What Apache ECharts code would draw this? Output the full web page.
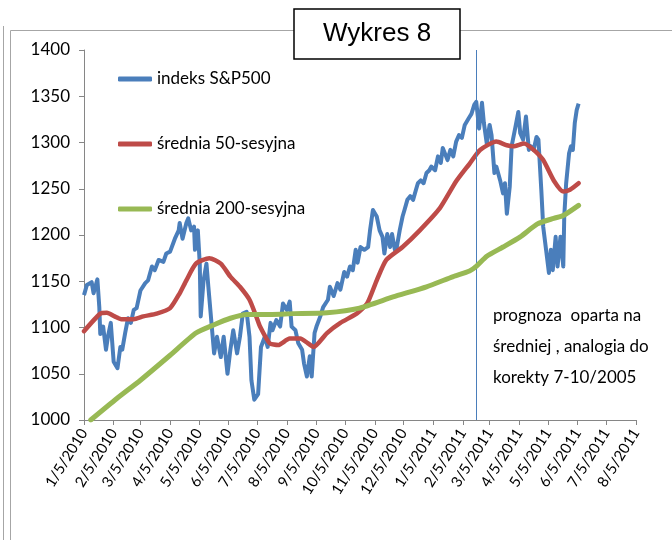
<!DOCTYPE html>
<html>
<head>
<meta charset="utf-8">
<title>Wykres 8</title>
<script src="https://cdn.jsdelivr.net/npm/echarts@6/dist/echarts.min.js"></script>
<style>
  html, body { margin: 0; padding: 0; background: #fff; }
  #main { width: 672px; height: 540px; }
</style>
</head>
<body>
<div id="main"></div>
<script>
const FONT = 'Lato, "Liberation Sans", sans-serif';

// oś X - etykiety co miesiąc
const tickLabels = ['1/5/2010', '2/5/2010', '3/5/2010', '4/5/2010', '5/5/2010', '6/5/2010', '7/5/2010',
  '8/5/2010', '9/5/2010', '10/5/2010', '11/5/2010', '12/5/2010', '1/5/2011', '2/5/2011', '3/5/2011',
  '4/5/2011', '5/5/2011', '6/5/2011', '7/5/2011', '8/5/2011'];

// indeks S&P500
const spxDates = [
  '2010-01-05', '2010-01-08', '2010-01-13', '2010-01-15', '2010-01-19', '2010-01-21', '2010-01-22', '2010-01-25',
  '2010-01-28', '2010-01-30', '2010-02-02', '2010-02-05', '2010-02-09', '2010-02-12', '2010-02-14', '2010-02-17',
  '2010-02-20', '2010-02-23', '2010-02-26', '2010-03-01', '2010-03-05', '2010-03-10', '2010-03-13', '2010-03-17',
  '2010-03-20', '2010-03-24', '2010-03-29', '2010-04-01', '2010-04-05', '2010-04-10', '2010-04-14', '2010-04-15',
  '2010-04-18', '2010-04-22', '2010-04-24', '2010-04-27', '2010-04-30', '2010-05-01', '2010-05-04', '2010-05-06',
  '2010-05-07', '2010-05-10', '2010-05-13', '2010-05-15', '2010-05-18', '2010-05-21', '2010-05-24', '2010-05-28',
  '2010-05-31', '2010-06-04', '2010-06-07', '2010-06-10', '2010-06-14', '2010-06-17', '2010-06-20', '2010-06-24',
  '2010-06-27', '2010-06-29', '2010-07-02', '2010-07-06', '2010-07-09', '2010-07-13', '2010-07-16', '2010-07-19',
  '2010-07-21', '2010-07-25', '2010-07-29', '2010-08-01', '2010-08-05', '2010-08-08', '2010-08-10', '2010-08-14',
  '2010-08-17', '2010-08-21', '2010-08-23', '2010-08-26', '2010-08-29', '2010-08-31', '2010-09-03', '2010-09-05',
  '2010-09-09', '2010-09-12', '2010-09-17', '2010-09-19', '2010-09-23', '2010-09-27', '2010-09-30', '2010-10-04',
  '2010-10-07', '2010-10-10', '2010-10-13', '2010-10-16', '2010-10-18', '2010-10-21', '2010-10-25', '2010-10-29',
  '2010-10-31', '2010-11-03', '2010-11-07', '2010-11-10', '2010-11-13', '2010-11-15', '2010-11-18', '2010-11-21',
  '2010-11-23', '2010-11-26', '2010-11-28', '2010-12-01', '2010-12-04', '2010-12-06', '2010-12-09', '2010-12-12',
  '2010-12-15', '2010-12-18', '2010-12-20', '2010-12-23', '2010-12-26', '2010-12-29', '2011-01-01', '2011-01-03',
  '2011-01-07', '2011-01-10', '2011-01-13', '2011-01-15', '2011-01-17', '2011-01-20', '2011-01-23', '2011-01-26',
  '2011-01-29', '2011-02-01', '2011-02-04', '2011-02-07', '2011-02-11', '2011-02-14', '2011-02-17', '2011-02-19',
  '2011-02-22', '2011-02-25', '2011-02-27', '2011-03-02', '2011-03-05', '2011-03-07', '2011-03-10', '2011-03-12',
  '2011-03-16', '2011-03-19', '2011-03-21', '2011-03-23', '2011-03-26', '2011-03-28', '2011-04-01', '2011-04-04',
  '2011-04-06', '2011-04-09', '2011-04-12', '2011-04-15', '2011-04-17', '2011-04-20', '2011-04-23', '2011-04-25',
  '2011-04-28', '2011-04-30', '2011-05-03', '2011-05-06', '2011-05-08', '2011-05-10', '2011-05-13', '2011-05-15',
  '2011-05-18', '2011-05-21', '2011-05-22', '2011-05-24', '2011-05-27', '2011-05-29', '2011-05-31', '2011-06-02',
  '2011-06-04', '2011-06-06'];
const spxValues = [
  1135, 1146, 1149, 1137, 1152, 1122, 1093, 1101,
  1076, 1090, 1105, 1063, 1056, 1079, 1076, 1094,
  1110, 1105, 1119, 1121, 1140, 1148, 1151, 1166,
  1162, 1173, 1171, 1180, 1182, 1196, 1205, 1213,
  1196, 1213, 1218, 1205, 1209, 1184, 1205, 1169,
  1112, 1151, 1169, 1144, 1108, 1072, 1090, 1068,
  1090, 1050, 1076, 1097, 1072, 1090, 1115, 1117,
  1090, 1043, 1022, 1028, 1079, 1090, 1079, 1105,
  1097, 1108, 1101, 1126, 1119, 1128, 1101, 1097,
  1083, 1076, 1061, 1047, 1069, 1047, 1094, 1101,
  1112, 1122, 1130, 1144, 1134, 1148, 1141, 1160,
  1155, 1166, 1162, 1184, 1170, 1187, 1184, 1187,
  1205, 1227, 1220, 1205, 1198, 1180, 1201, 1187,
  1201, 1184, 1187, 1205, 1220, 1227, 1238, 1242,
  1238, 1249, 1256, 1259, 1256, 1267, 1270, 1274,
  1270, 1285, 1278, 1294, 1296, 1281, 1292, 1285,
  1301, 1308, 1305, 1319, 1326, 1331, 1341, 1344,
  1315, 1343, 1321, 1299, 1319, 1308, 1267, 1274,
  1259, 1245, 1256, 1223, 1252, 1296, 1317, 1333,
  1310, 1303, 1328, 1292, 1296, 1292, 1306, 1303,
  1249, 1209, 1184, 1159, 1184, 1162, 1198, 1166,
  1198, 1166, 1220, 1256, 1288, 1296, 1292, 1321,
  1335, 1342];

// średnia 50-sesyjna
const ma50Dates = [
  '2010-01-05', '2010-01-22', '2010-01-29', '2010-02-06', '2010-02-13', '2010-02-26', '2010-03-08', '2010-03-22',
  '2010-04-05', '2010-04-15', '2010-04-22', '2010-05-02', '2010-05-16', '2010-05-28', '2010-06-07', '2010-06-17',
  '2010-06-27', '2010-07-04', '2010-07-08', '2010-07-18', '2010-07-27', '2010-08-08', '2010-08-19', '2010-08-27',
  '2010-09-02', '2010-09-16', '2010-09-30', '2010-10-17', '2010-10-28', '2010-11-07', '2010-11-17', '2010-12-04',
  '2010-12-22', '2011-01-12', '2011-01-29', '2011-02-12', '2011-02-23', '2011-03-12', '2011-03-23', '2011-03-30',
  '2011-04-10', '2011-04-20', '2011-04-30', '2011-05-11', '2011-05-21', '2011-05-28', '2011-06-06'];
const ma50Values = [
  1096, 1115, 1116, 1112, 1109, 1109, 1112, 1115,
  1121, 1137, 1151, 1169, 1175, 1169, 1155, 1144,
  1130, 1112, 1101, 1083, 1081, 1088, 1088, 1083,
  1079, 1094, 1105, 1115, 1126, 1151, 1173, 1187,
  1205, 1229, 1258, 1277, 1292, 1301, 1297, 1296,
  1299, 1292, 1281, 1259, 1247, 1249, 1256];

// średnia 200-sesyjna
const ma200Dates = [
  '2010-01-12', '2010-02-08', '2010-03-05', '2010-04-05', '2010-05-02', '2010-05-21', '2010-06-07', '2010-06-24',
  '2010-07-08', '2010-08-12', '2010-09-16', '2010-10-20', '2010-11-24', '2010-12-29', '2011-01-26', '2011-02-12',
  '2011-02-19', '2011-03-02', '2011-03-19', '2011-04-06', '2011-04-24', '2011-05-11', '2011-05-21', '2011-06-06'];
const ma200Values = [
  1000, 1023, 1043, 1070, 1094, 1103, 1110, 1114,
  1114, 1115, 1116, 1121, 1133, 1144, 1155, 1161,
  1166, 1177, 1187, 1198, 1212, 1218, 1221, 1232];

const forecastDate = '2011-02-19';
const noteLines = ['prognoza  oparta na', 'średniej , analogia do', 'korekty 7-10/2005'];

// daty -> ms (czas lokalny)
function isoToTime(s) {
  const [y, m, d] = s.split('-').map(Number);
  return new Date(y, m - 1, d).getTime();
}
function labelToTime(s) {
  const [m, d, y] = s.split('/').map(Number);
  return new Date(y, m - 1, d).getTime();
}
const tickValues = tickLabels.map(labelToTime);
const pairs = (ds, vs) => ds.map((d, i) => [isoToTime(d), vs[i]]);

const chart = echarts.init(document.getElementById('main'));
chart.setOption({
  animation: false,
  title: {
    text: 'Wykres 8',
    left: 294,
    top: 9,
    padding: [12, 29, 12, 29],
    backgroundColor: '#fff',
    borderColor: '#000',
    borderWidth: 1.5,
    textStyle: { fontFamily: '"Liberation Sans", Arial, sans-serif', fontSize: 26, fontWeight: 'normal', color: '#000' }
  },
  legend: {
    orient: 'vertical',
    left: 113,
    top: 64,
    itemWidth: 34,
    itemHeight: 5,
    itemGap: 45,
    icon: 'roundRect',
    textStyle: { fontFamily: FONT, fontSize: 17, color: '#000', lineHeight: 20 },
    data: ['indeks S&P500', 'średnia 50-sesyjna', 'średnia 200-sesyjna']
  },
  grid: { left: 84, right: 36, top: 50, bottom: 120 },
  xAxis: {
    type: 'value',
    min: tickValues[0],
    max: tickValues[tickValues.length - 1],
    splitLine: { show: false },
    axisLine: { lineStyle: { color: '#868686' } },
    axisTick: { show: true, length: 5, customValues: tickValues, lineStyle: { color: '#868686' } },
    axisLabel: {
      customValues: tickValues,
      rotate: 58,
      margin: 10,
      fontFamily: FONT,
      fontSize: 15,
      color: '#000',
      hideOverlap: false,
      formatter: v => {
        const i = tickValues.indexOf(+v);
        return i >= 0 ? tickLabels[i] : '';
      }
    }
  },
  yAxis: {
    type: 'value',
    min: 1000,
    max: 1400,
    interval: 50,
    splitLine: { show: false },
    axisLine: { show: true, lineStyle: { color: '#868686' } },
    axisTick: { show: true, length: 5, lineStyle: { color: '#868686' } },
    axisLabel: { fontFamily: FONT, fontSize: 17, color: '#000', margin: 14, formatter: v => String(v) }
  },
  series: [
    {
      name: 'indeks S&P500',
      type: 'line',
      symbol: 'none',
      color: '#4A7EBB',
      lineStyle: { width: 4, color: '#4A7EBB', join: 'round' },
      data: pairs(spxDates, spxValues),
      z: 3,
      markLine: {
        silent: true,
        symbol: 'none',
        label: { show: false },
        lineStyle: { color: '#4A7EBB', width: 1, type: 'solid' },
        data: [{ xAxis: isoToTime(forecastDate) }]
      }
    },
    {
      name: 'średnia 50-sesyjna',
      type: 'line',
      symbol: 'none',
      smooth: 0.2,
      color: '#BE4B48',
      lineStyle: { width: 4.5, color: '#BE4B48', cap: 'round' },
      data: pairs(ma50Dates, ma50Values),
      z: 4
    },
    {
      name: 'średnia 200-sesyjna',
      type: 'line',
      symbol: 'none',
      smooth: 0.2,
      color: '#98B954',
      lineStyle: { width: 5, color: '#98B954', cap: 'round' },
      data: pairs(ma200Dates, ma200Values),
      z: 5
    }
  ],
  graphic: [
    // ramka wykresu
    { type: 'line', silent: true, shape: { x1: 3.5, y1: 26, x2: 3.5, y2: 540 }, style: { stroke: '#a6a6a6', lineWidth: 1 } },
    { type: 'rect', silent: true, shape: { x: 10.5, y: 30.5, width: 700, height: 600 }, style: { fill: 'none', stroke: '#a6a6a6', lineWidth: 1 } },
    // opis prognozy
    {
      type: 'text',
      left: 493,
      top: 300,
      style: { text: noteLines.join('\n'), fontFamily: FONT, fontSize: 17, lineHeight: 31, fill: '#000' }
    }
  ]
});
</script>
</body>
</html>
